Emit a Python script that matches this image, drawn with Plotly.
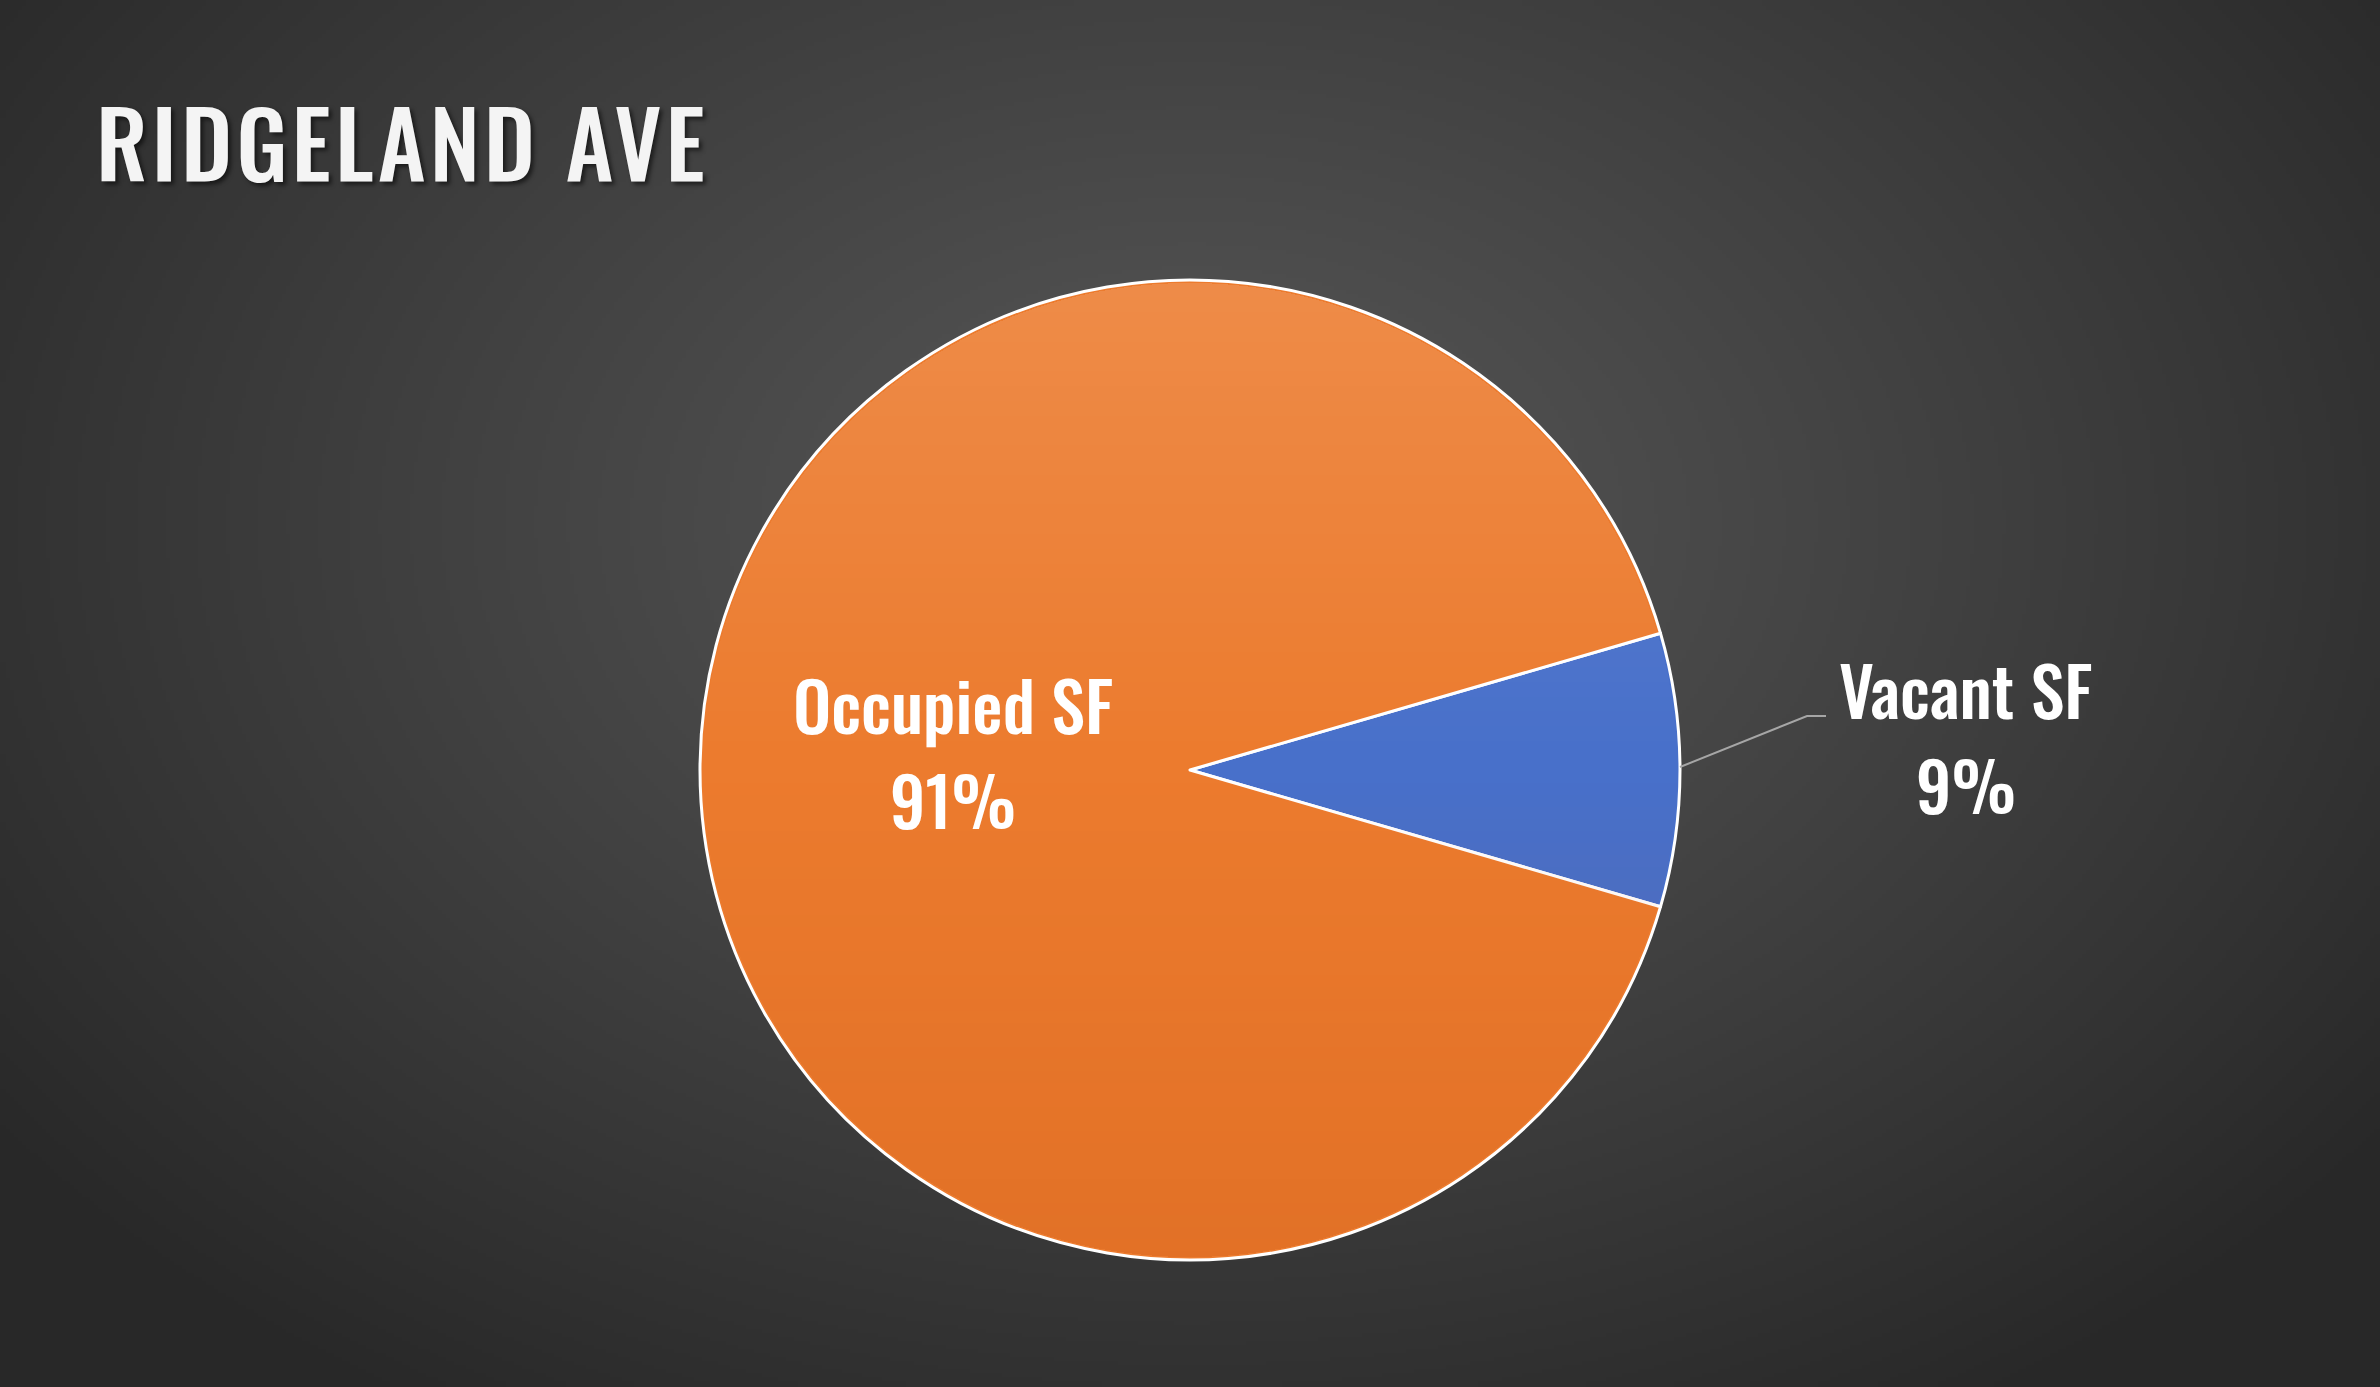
import base64
import struct
import zlib

import numpy as np
import plotly.graph_objects as go

# data
labels = ["Vacant SF", "Occupied SF"]
shares = [9, 91]
slice_colors = ["#4870CA", "#EC7B2E"]
title_text = "RIDGELAND AVE"

W, H = 2380, 1387
FONT = "Oswald, Roboto Condensed, DejaVu Sans Condensed, sans-serif"

# pie placement (pixels)
cx, cy, rad = 1190, 770, 490


def png_uri(rgba):
    h, w, _ = rgba.shape
    raw = b"".join(b"\x00" + rgba[i].tobytes() for i in range(h))

    def chunk(tag, data):
        c = struct.pack(">I", len(data)) + tag + data
        return c + struct.pack(">I", zlib.crc32(tag + data) & 0xFFFFFFFF)

    png = b"\x89PNG\r\n\x1a\n"
    png += chunk(b"IHDR", struct.pack(">IIBBBBB", w, h, 8, 6, 0, 0, 0))
    png += chunk(b"IDAT", zlib.compress(raw, 9))
    png += chunk(b"IEND", b"")
    return "data:image/png;base64," + base64.b64encode(png).decode()


# radial background glow
bw, bh = 595, 347
yy, xx = np.mgrid[0:bh, 0:bw].astype(float)
gx, gy = xx * W / bw, yy * H / bh
d = np.sqrt(((gx - 1190) / 1500) ** 2 + ((gy - 520) / 1050) ** 2)
d = np.clip(d, 0, 1)
inner, outer = 87, 40
v = (inner + (outer - inner) * d ** 1.1).astype(np.uint8)
bg = np.dstack([v, v, v, np.full_like(v, 255)])

# soft vertical shading over the pie
ps = 2 * rad
py, px = np.mgrid[0:ps, 0:ps].astype(float)
inside = np.sqrt((px - rad + 0.5) ** 2 + (py - rad + 0.5) ** 2) < rad - 3
t = py / ps
light = np.clip((0.5 - t) / 0.5, 0, 1) * 0.13
dark = np.clip((t - 0.5) / 0.5, 0, 1) * 0.16
r_ch = np.where(light > 0, 255, 175).astype(np.uint8)
g_ch = np.where(light > 0, 255, 60).astype(np.uint8)
b_ch = np.where(light > 0, 255, 0).astype(np.uint8)
alpha = ((light + dark) * 255 * inside).astype(np.uint8)
shade = np.dstack([r_ch, g_ch, b_ch, alpha])

fig = go.Figure()

fig.add_trace(go.Pie(
    labels=labels,
    values=shares,
    sort=False,
    direction="clockwise",
    rotation=90 - shares[0] / 100 * 360 / 2,
    marker=dict(colors=slice_colors, line=dict(color="#FFFFFF", width=3)),
    textinfo="none",
    hoverinfo="label+percent",
    showlegend=False,
    domain=dict(x=[(cx - rad) / W, (cx + rad) / W],
                y=[1 - (cy + rad) / H, 1 - (cy - rad) / H]),
))

# slice labels: name line and percent line
label_pos = {"Occupied SF": (953, 703, 798), "Vacant SF": (1966, 688, 783)}
total = sum(shares)
label_font = dict(family=FONT, size=68, color="#FFFFFF", weight=500)
for lab, val in zip(labels, shares):
    x, y1, y2 = label_pos[lab]
    for text, y in [(lab, y1), (f"{round(100 * val / total)}%", y2)]:
        fig.add_annotation(
            x=x / W, y=1 - y / H, xref="paper", yref="paper",
            text=text, showarrow=False,
            xanchor="center", yanchor="middle", font=label_font,
        )

# leader line for the outside label
lx0, ly0 = cx + rad, cy - 3
lx1, ly1 = 1807, 716
lx2 = 1826
fig.add_shape(type="path",
              path=f"M {lx0/W} {1-ly0/H} L {lx1/W} {1-ly1/H} L {lx2/W} {1-ly1/H}",
              xref="paper", yref="paper",
              line=dict(color="#A6A6A6", width=2))

fig.add_layout_image(
    source=png_uri(bg), xref="paper", yref="paper", x=0, y=1,
    sizex=1, sizey=1, xanchor="left", yanchor="top",
    sizing="stretch", layer="below",
)
fig.add_layout_image(
    source=png_uri(shade), xref="paper", yref="paper",
    x=(cx - rad) / W, y=1 - (cy - rad) / H,
    sizex=2 * rad / W, sizey=2 * rad / H, xanchor="left", yanchor="top",
    sizing="stretch", layer="above",
)

fig.update_layout(
    width=W, height=H,
    margin=dict(l=0, r=0, t=0, b=0),
    paper_bgcolor="#3A3A3A",
    plot_bgcolor="rgba(0,0,0,0)",
    title=dict(
        text=title_text, x=96 / W, y=1 - 150 / H,
        xanchor="left", yanchor="middle",
        font=dict(family=FONT, size=92, color="#F4F4F4", weight=500,
                  shadow="3px 3px 4px rgba(0,0,0,0.55)"),
    ),
)

css = ("var s=document.createElement('style');"
       "s.textContent='.gtitle{letter-spacing:4px}';"
       "document.head.appendChild(s);document.body.style.margin='0';")
fig.write_html("out.html", config={"displayModeBar": False}, post_script=css)
